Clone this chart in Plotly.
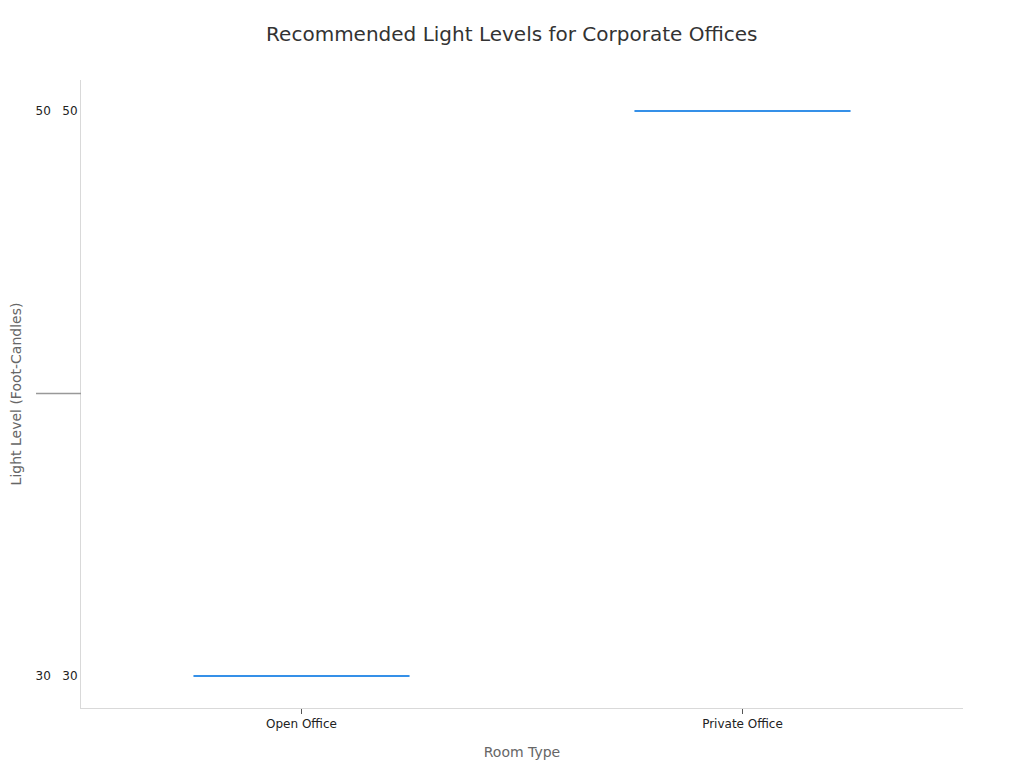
import plotly.graph_objects as go

room_types = ["Open Office", "Private Office"]
light_levels = [30, 50]
y_ticks = [30, 50]
y_tick_labels = ["30\u00a0\u00a0\u00a030", "50\u00a0\u00a0\u00a050"]

fig = go.Figure()

for room, level in zip(room_types, [[v] for v in light_levels]):
    fig.add_trace(go.Box(
        x=[room] * len(level),
        y=level,
        name=room,
        marker_color="#3590E8",
        line=dict(color="#3590E8", width=2),
        fillcolor="rgba(53,144,232,0.3)",
        boxpoints=False,
        showlegend=False,
    ))

# grey marker at the middle of the axis
fig.add_shape(type="line", xref="paper", yref="y",
              x0=-0.051, x1=0, y0=40, y1=40,
              line=dict(color="#999999", width=1.5))

fig.update_layout(
    width=1024,
    height=768,
    font=dict(family="DejaVu Sans", size=12, color="#333333"),
    title=dict(text="Recommended Light Levels for Corporate Offices",
               x=0.492, xanchor="center", y=0.975,
               font=dict(size=20, color="#333333")),
    margin=dict(l=73, r=69, t=72, b=68),
    plot_bgcolor="white",
    paper_bgcolor="white",
    boxgap=0.3,
    xaxis=dict(
        title=dict(text="Room Type", font=dict(size=14, color="#666666"), standoff=16),
        showline=True, linecolor="#d9d9d9", linewidth=1,
        ticks="outside", tickcolor="#555555", ticklen=5,
        showgrid=False,
        tickfont=dict(size=12, color="#222222"),
    ),
    yaxis=dict(
        title=dict(text="Light Level (Foot-Candles)", font=dict(size=14, color="#666666")),
        range=[28.87, 51.1],
        tickvals=y_ticks,
        ticktext=y_tick_labels,
        automargin=False,
        showline=True, linecolor="#d9d9d9", linewidth=1,
        showgrid=False, zeroline=False,
        tickfont=dict(size=12, color="#222222"),
    ),
)

fig.write_html("out.html")
